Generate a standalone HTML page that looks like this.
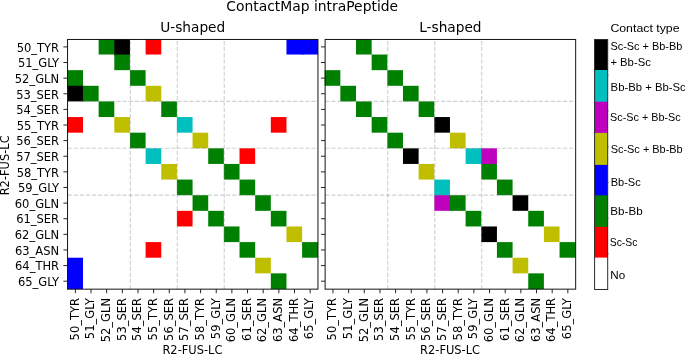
<!DOCTYPE html>
<html lang="en"><head><meta charset="utf-8"><title>ContactMap intraPeptide</title>
<style>html,body{margin:0;padding:0;background:#fff;overflow:hidden}svg{display:block}text{fill:#000}.t{font-family:'DejaVu Sans', 'Liberation Sans', sans-serif;font-size:11.50px}.l{font-family:'DejaVu Sans', 'Liberation Sans', sans-serif;font-size:11.45px}.h{font-family:'DejaVu Sans', 'Liberation Sans', sans-serif;font-size:13.89px}.lg{font-family:'Liberation Sans', 'DejaVu Sans', sans-serif;font-size:11.5px}</style>
</head><body>
<svg width="685" height="355" viewBox="0 0 685 355">
<rect x="0" y="0" width="685" height="355" fill="#ffffff"/>
<text class="h" text-anchor="middle" x="312.2" y="10.7">ContactMap intraPeptide</text>
<text class="h" style="font-size:13.7px" text-anchor="middle" x="192.76" y="32">U-shaped</text>
<text class="h" style="font-size:13.7px" text-anchor="middle" x="450.40" y="32">L-shaped</text>
<g>
<rect x="98.65" y="39.07" width="16.95" height="15.46" fill="#008000"/>
<rect x="114.30" y="39.07" width="15.65" height="16.76" fill="#000000"/>
<rect x="145.61" y="39.07" width="15.65" height="15.46" fill="#ff0000"/>
<rect x="286.47" y="39.07" width="16.95" height="15.46" fill="#0000ff"/>
<rect x="302.12" y="39.07" width="15.85" height="15.46" fill="#0000ff"/>
<rect x="114.30" y="54.53" width="15.65" height="15.63" fill="#008000"/>
<rect x="67.35" y="70.16" width="15.65" height="16.93" fill="#008000"/>
<rect x="129.96" y="70.16" width="15.65" height="15.63" fill="#008000"/>
<rect x="67.35" y="85.79" width="16.95" height="15.63" fill="#000000"/>
<rect x="83.00" y="85.79" width="15.65" height="15.63" fill="#008000"/>
<rect x="145.61" y="85.79" width="15.65" height="15.63" fill="#bfbf00"/>
<rect x="98.65" y="101.42" width="15.65" height="15.63" fill="#008000"/>
<rect x="161.26" y="101.42" width="15.65" height="15.63" fill="#008000"/>
<rect x="67.35" y="117.05" width="15.65" height="15.63" fill="#ff0000"/>
<rect x="114.30" y="117.05" width="15.65" height="15.63" fill="#bfbf00"/>
<rect x="176.91" y="117.05" width="15.65" height="15.63" fill="#00bfbf"/>
<rect x="270.82" y="117.05" width="15.65" height="15.63" fill="#ff0000"/>
<rect x="129.96" y="132.68" width="15.65" height="15.63" fill="#008000"/>
<rect x="192.56" y="132.68" width="15.65" height="15.63" fill="#bfbf00"/>
<rect x="145.61" y="148.31" width="15.65" height="15.63" fill="#00bfbf"/>
<rect x="208.21" y="148.31" width="15.65" height="15.63" fill="#008000"/>
<rect x="239.51" y="148.31" width="15.65" height="15.63" fill="#ff0000"/>
<rect x="161.26" y="163.94" width="15.65" height="15.63" fill="#bfbf00"/>
<rect x="223.86" y="163.94" width="15.65" height="15.63" fill="#008000"/>
<rect x="176.91" y="179.57" width="15.65" height="15.63" fill="#008000"/>
<rect x="239.51" y="179.57" width="15.65" height="15.63" fill="#008000"/>
<rect x="192.56" y="195.20" width="15.65" height="15.63" fill="#008000"/>
<rect x="255.17" y="195.20" width="15.65" height="15.63" fill="#008000"/>
<rect x="176.91" y="210.83" width="15.65" height="15.63" fill="#ff0000"/>
<rect x="208.21" y="210.83" width="15.65" height="15.63" fill="#008000"/>
<rect x="270.82" y="210.83" width="15.65" height="15.63" fill="#008000"/>
<rect x="223.86" y="226.46" width="15.65" height="15.63" fill="#008000"/>
<rect x="286.47" y="226.46" width="15.65" height="15.63" fill="#bfbf00"/>
<rect x="145.61" y="242.09" width="15.65" height="15.63" fill="#ff0000"/>
<rect x="239.51" y="242.09" width="15.65" height="15.63" fill="#008000"/>
<rect x="302.12" y="242.09" width="15.85" height="15.63" fill="#008000"/>
<rect x="67.35" y="257.72" width="15.65" height="16.93" fill="#0000ff"/>
<rect x="255.17" y="257.72" width="15.65" height="15.63" fill="#bfbf00"/>
<rect x="67.35" y="273.35" width="15.65" height="15.80" fill="#0000ff"/>
<rect x="270.82" y="273.35" width="15.65" height="15.80" fill="#008000"/>
</g>
<g stroke="#808080" stroke-opacity="0.36" stroke-width="1.15" stroke-dasharray="4.255 1.842" fill="none">
<line x1="130.35" y1="289.15" x2="130.35" y2="39.47"/>
<line x1="177.31" y1="289.15" x2="177.31" y2="39.47"/>
<line x1="224.26" y1="289.15" x2="224.26" y2="39.47"/>
<line x1="67.55" y1="101.44" x2="317.97" y2="101.44"/>
<line x1="67.55" y1="148.25" x2="317.97" y2="148.25"/>
<line x1="67.55" y1="195.07" x2="317.97" y2="195.07"/>
</g>
<g stroke="#262626" stroke-width="1.0">
<line x1="75.38" y1="289.15" x2="75.38" y2="293.25"/>
<line x1="63.45" y1="46.90" x2="67.55" y2="46.90"/>
<line x1="91.03" y1="289.15" x2="91.03" y2="293.25"/>
<line x1="63.45" y1="62.52" x2="67.55" y2="62.52"/>
<line x1="106.68" y1="289.15" x2="106.68" y2="293.25"/>
<line x1="63.45" y1="78.14" x2="67.55" y2="78.14"/>
<line x1="122.33" y1="289.15" x2="122.33" y2="293.25"/>
<line x1="63.45" y1="93.76" x2="67.55" y2="93.76"/>
<line x1="137.98" y1="289.15" x2="137.98" y2="293.25"/>
<line x1="63.45" y1="109.38" x2="67.55" y2="109.38"/>
<line x1="153.63" y1="289.15" x2="153.63" y2="293.25"/>
<line x1="63.45" y1="125.00" x2="67.55" y2="125.00"/>
<line x1="169.28" y1="289.15" x2="169.28" y2="293.25"/>
<line x1="63.45" y1="140.62" x2="67.55" y2="140.62"/>
<line x1="184.93" y1="289.15" x2="184.93" y2="293.25"/>
<line x1="63.45" y1="156.24" x2="67.55" y2="156.24"/>
<line x1="200.59" y1="289.15" x2="200.59" y2="293.25"/>
<line x1="63.45" y1="171.86" x2="67.55" y2="171.86"/>
<line x1="216.24" y1="289.15" x2="216.24" y2="293.25"/>
<line x1="63.45" y1="187.48" x2="67.55" y2="187.48"/>
<line x1="231.89" y1="289.15" x2="231.89" y2="293.25"/>
<line x1="63.45" y1="203.10" x2="67.55" y2="203.10"/>
<line x1="247.54" y1="289.15" x2="247.54" y2="293.25"/>
<line x1="63.45" y1="218.72" x2="67.55" y2="218.72"/>
<line x1="263.19" y1="289.15" x2="263.19" y2="293.25"/>
<line x1="63.45" y1="234.34" x2="67.55" y2="234.34"/>
<line x1="278.84" y1="289.15" x2="278.84" y2="293.25"/>
<line x1="63.45" y1="249.96" x2="67.55" y2="249.96"/>
<line x1="294.49" y1="289.15" x2="294.49" y2="293.25"/>
<line x1="63.45" y1="265.58" x2="67.55" y2="265.58"/>
<line x1="310.14" y1="289.15" x2="310.14" y2="293.25"/>
<line x1="63.45" y1="281.20" x2="67.55" y2="281.20"/>
</g>
<rect x="67.55" y="39.47" width="250.42" height="249.68" fill="none" stroke="#141414" stroke-width="1.0"/>
<text class="t" transform="translate(78.68 297.95) rotate(-90)" text-anchor="end" x="0" y="0">50_TYR</text>
<text class="t" text-anchor="end" x="59.10" y="51.72">50_TYR</text>
<text class="t" transform="translate(94.33 297.95) rotate(-90)" text-anchor="end" x="0" y="0">51_GLY</text>
<text class="t" text-anchor="end" x="59.10" y="67.33">51_GLY</text>
<text class="t" transform="translate(109.98 297.95) rotate(-90)" text-anchor="end" x="0" y="0">52_GLN</text>
<text class="t" text-anchor="end" x="59.10" y="82.93">52_GLN</text>
<text class="t" transform="translate(125.63 297.95) rotate(-90)" text-anchor="end" x="0" y="0">53_SER</text>
<text class="t" text-anchor="end" x="59.10" y="98.54">53_SER</text>
<text class="t" transform="translate(141.28 297.95) rotate(-90)" text-anchor="end" x="0" y="0">54_SER</text>
<text class="t" text-anchor="end" x="59.10" y="114.14">54_SER</text>
<text class="t" transform="translate(156.93 297.95) rotate(-90)" text-anchor="end" x="0" y="0">55_TYR</text>
<text class="t" text-anchor="end" x="59.10" y="129.75">55_TYR</text>
<text class="t" transform="translate(172.58 297.95) rotate(-90)" text-anchor="end" x="0" y="0">56_SER</text>
<text class="t" text-anchor="end" x="59.10" y="145.35">56_SER</text>
<text class="t" transform="translate(188.23 297.95) rotate(-90)" text-anchor="end" x="0" y="0">57_SER</text>
<text class="t" text-anchor="end" x="59.10" y="160.96">57_SER</text>
<text class="t" transform="translate(203.89 297.95) rotate(-90)" text-anchor="end" x="0" y="0">58_TYR</text>
<text class="t" text-anchor="end" x="59.10" y="176.56">58_TYR</text>
<text class="t" transform="translate(219.54 297.95) rotate(-90)" text-anchor="end" x="0" y="0">59_GLY</text>
<text class="t" text-anchor="end" x="59.10" y="192.17">59_GLY</text>
<text class="t" transform="translate(235.19 297.95) rotate(-90)" text-anchor="end" x="0" y="0">60_GLN</text>
<text class="t" text-anchor="end" x="59.10" y="207.77">60_GLN</text>
<text class="t" transform="translate(250.84 297.95) rotate(-90)" text-anchor="end" x="0" y="0">61_SER</text>
<text class="t" text-anchor="end" x="59.10" y="223.38">61_SER</text>
<text class="t" transform="translate(266.49 297.95) rotate(-90)" text-anchor="end" x="0" y="0">62_GLN</text>
<text class="t" text-anchor="end" x="59.10" y="238.98">62_GLN</text>
<text class="t" transform="translate(282.14 297.95) rotate(-90)" text-anchor="end" x="0" y="0">63_ASN</text>
<text class="t" text-anchor="end" x="59.10" y="254.59">63_ASN</text>
<text class="t" transform="translate(297.79 297.95) rotate(-90)" text-anchor="end" x="0" y="0">64_THR</text>
<text class="t" text-anchor="end" x="59.10" y="270.19">64_THR</text>
<text class="t" transform="translate(313.44 297.95) rotate(-90)" text-anchor="end" x="0" y="0">65_GLY</text>
<text class="t" text-anchor="end" x="59.10" y="285.80">65_GLY</text>
<text class="l" text-anchor="middle" x="192.46" y="354.25">R2-FUS-LC</text>
<g>
<rect x="356.00" y="39.07" width="15.66" height="15.46" fill="#008000"/>
<rect x="371.66" y="54.53" width="15.66" height="15.63" fill="#008000"/>
<rect x="324.68" y="70.16" width="15.66" height="15.63" fill="#008000"/>
<rect x="387.31" y="70.16" width="15.66" height="15.63" fill="#008000"/>
<rect x="340.34" y="85.79" width="15.66" height="15.63" fill="#008000"/>
<rect x="402.97" y="85.79" width="15.66" height="15.63" fill="#008000"/>
<rect x="356.00" y="101.42" width="15.66" height="15.63" fill="#008000"/>
<rect x="418.63" y="101.42" width="15.66" height="15.63" fill="#008000"/>
<rect x="371.66" y="117.05" width="15.66" height="15.63" fill="#008000"/>
<rect x="434.29" y="117.05" width="15.66" height="15.63" fill="#000000"/>
<rect x="387.31" y="132.68" width="15.66" height="15.63" fill="#008000"/>
<rect x="449.95" y="132.68" width="15.66" height="15.63" fill="#bfbf00"/>
<rect x="402.97" y="148.31" width="15.66" height="15.63" fill="#000000"/>
<rect x="465.61" y="148.31" width="16.96" height="15.63" fill="#00bfbf"/>
<rect x="481.27" y="148.31" width="15.66" height="16.93" fill="#bf00bf"/>
<rect x="418.63" y="163.94" width="15.66" height="15.63" fill="#bfbf00"/>
<rect x="481.27" y="163.94" width="15.66" height="15.63" fill="#008000"/>
<rect x="434.29" y="179.57" width="15.66" height="16.93" fill="#00bfbf"/>
<rect x="496.93" y="179.57" width="15.66" height="15.63" fill="#008000"/>
<rect x="434.29" y="195.20" width="16.96" height="15.63" fill="#bf00bf"/>
<rect x="449.95" y="195.20" width="15.66" height="15.63" fill="#008000"/>
<rect x="512.58" y="195.20" width="15.66" height="15.63" fill="#000000"/>
<rect x="465.61" y="210.83" width="15.66" height="15.63" fill="#008000"/>
<rect x="528.24" y="210.83" width="15.66" height="15.63" fill="#008000"/>
<rect x="481.27" y="226.46" width="15.66" height="15.63" fill="#000000"/>
<rect x="543.90" y="226.46" width="15.66" height="15.63" fill="#bfbf00"/>
<rect x="496.93" y="242.09" width="15.66" height="15.63" fill="#008000"/>
<rect x="559.56" y="242.09" width="16.11" height="15.63" fill="#008000"/>
<rect x="512.58" y="257.72" width="15.66" height="15.63" fill="#bfbf00"/>
<rect x="528.24" y="273.35" width="15.66" height="15.80" fill="#008000"/>
</g>
<g stroke="#808080" stroke-opacity="0.36" stroke-width="1.15" stroke-dasharray="4.255 1.842" fill="none">
<line x1="387.76" y1="289.15" x2="387.76" y2="39.47"/>
<line x1="434.74" y1="289.15" x2="434.74" y2="39.47"/>
<line x1="481.72" y1="289.15" x2="481.72" y2="39.47"/>
<line x1="325.13" y1="101.44" x2="575.67" y2="101.44"/>
<line x1="325.13" y1="148.25" x2="575.67" y2="148.25"/>
<line x1="325.13" y1="195.07" x2="575.67" y2="195.07"/>
</g>
<g stroke="#262626" stroke-width="1.0">
<line x1="332.96" y1="289.15" x2="332.96" y2="293.25"/>
<line x1="321.03" y1="46.90" x2="325.13" y2="46.90"/>
<line x1="348.62" y1="289.15" x2="348.62" y2="293.25"/>
<line x1="321.03" y1="62.52" x2="325.13" y2="62.52"/>
<line x1="364.28" y1="289.15" x2="364.28" y2="293.25"/>
<line x1="321.03" y1="78.14" x2="325.13" y2="78.14"/>
<line x1="379.94" y1="289.15" x2="379.94" y2="293.25"/>
<line x1="321.03" y1="93.76" x2="325.13" y2="93.76"/>
<line x1="395.59" y1="289.15" x2="395.59" y2="293.25"/>
<line x1="321.03" y1="109.38" x2="325.13" y2="109.38"/>
<line x1="411.25" y1="289.15" x2="411.25" y2="293.25"/>
<line x1="321.03" y1="125.00" x2="325.13" y2="125.00"/>
<line x1="426.91" y1="289.15" x2="426.91" y2="293.25"/>
<line x1="321.03" y1="140.62" x2="325.13" y2="140.62"/>
<line x1="442.57" y1="289.15" x2="442.57" y2="293.25"/>
<line x1="321.03" y1="156.24" x2="325.13" y2="156.24"/>
<line x1="458.23" y1="289.15" x2="458.23" y2="293.25"/>
<line x1="321.03" y1="171.86" x2="325.13" y2="171.86"/>
<line x1="473.89" y1="289.15" x2="473.89" y2="293.25"/>
<line x1="321.03" y1="187.48" x2="325.13" y2="187.48"/>
<line x1="489.55" y1="289.15" x2="489.55" y2="293.25"/>
<line x1="321.03" y1="203.10" x2="325.13" y2="203.10"/>
<line x1="505.21" y1="289.15" x2="505.21" y2="293.25"/>
<line x1="321.03" y1="218.72" x2="325.13" y2="218.72"/>
<line x1="520.86" y1="289.15" x2="520.86" y2="293.25"/>
<line x1="321.03" y1="234.34" x2="325.13" y2="234.34"/>
<line x1="536.52" y1="289.15" x2="536.52" y2="293.25"/>
<line x1="321.03" y1="249.96" x2="325.13" y2="249.96"/>
<line x1="552.18" y1="289.15" x2="552.18" y2="293.25"/>
<line x1="321.03" y1="265.58" x2="325.13" y2="265.58"/>
<line x1="567.84" y1="289.15" x2="567.84" y2="293.25"/>
<line x1="321.03" y1="281.20" x2="325.13" y2="281.20"/>
</g>
<rect x="325.13" y="39.47" width="250.54" height="249.68" fill="none" stroke="#141414" stroke-width="1.0"/>
<text class="t" transform="translate(336.26 297.95) rotate(-90)" text-anchor="end" x="0" y="0">50_TYR</text>
<text class="t" transform="translate(351.92 297.95) rotate(-90)" text-anchor="end" x="0" y="0">51_GLY</text>
<text class="t" transform="translate(367.58 297.95) rotate(-90)" text-anchor="end" x="0" y="0">52_GLN</text>
<text class="t" transform="translate(383.24 297.95) rotate(-90)" text-anchor="end" x="0" y="0">53_SER</text>
<text class="t" transform="translate(398.89 297.95) rotate(-90)" text-anchor="end" x="0" y="0">54_SER</text>
<text class="t" transform="translate(414.55 297.95) rotate(-90)" text-anchor="end" x="0" y="0">55_TYR</text>
<text class="t" transform="translate(430.21 297.95) rotate(-90)" text-anchor="end" x="0" y="0">56_SER</text>
<text class="t" transform="translate(445.87 297.95) rotate(-90)" text-anchor="end" x="0" y="0">57_SER</text>
<text class="t" transform="translate(461.53 297.95) rotate(-90)" text-anchor="end" x="0" y="0">58_TYR</text>
<text class="t" transform="translate(477.19 297.95) rotate(-90)" text-anchor="end" x="0" y="0">59_GLY</text>
<text class="t" transform="translate(492.85 297.95) rotate(-90)" text-anchor="end" x="0" y="0">60_GLN</text>
<text class="t" transform="translate(508.51 297.95) rotate(-90)" text-anchor="end" x="0" y="0">61_SER</text>
<text class="t" transform="translate(524.16 297.95) rotate(-90)" text-anchor="end" x="0" y="0">62_GLN</text>
<text class="t" transform="translate(539.82 297.95) rotate(-90)" text-anchor="end" x="0" y="0">63_ASN</text>
<text class="t" transform="translate(555.48 297.95) rotate(-90)" text-anchor="end" x="0" y="0">64_THR</text>
<text class="t" transform="translate(571.14 297.95) rotate(-90)" text-anchor="end" x="0" y="0">65_GLY</text>
<text class="l" text-anchor="middle" x="450.10" y="354.25">R2-FUS-LC</text>
<text class="l" transform="translate(9.1 165.31) rotate(-90)" text-anchor="middle" x="0" y="0">R2-FUS-LC</text>
<g>
<rect x="594.60" y="39.55" width="13.10" height="31.75" fill="#000000"/>
<rect x="594.60" y="70.00" width="13.10" height="33.00" fill="#00bfbf"/>
<rect x="594.60" y="101.70" width="13.10" height="32.50" fill="#bf00bf"/>
<rect x="594.60" y="132.90" width="13.10" height="33.30" fill="#bfbf00"/>
<rect x="594.60" y="164.90" width="13.10" height="31.70" fill="#0000ff"/>
<rect x="594.60" y="195.30" width="13.10" height="32.90" fill="#008000"/>
<rect x="594.60" y="226.90" width="13.10" height="30.70" fill="#ff0000"/>
</g>
<rect x="594.60" y="39.55" width="13.10" height="249.95" fill="none" stroke="#222222" stroke-width="0.95"/>
<g stroke="#555555" stroke-width="0.9">
<line x1="607.70" y1="75.26" x2="608.60" y2="75.26"/>
<line x1="607.70" y1="110.96" x2="608.60" y2="110.96"/>
<line x1="607.70" y1="146.67" x2="608.60" y2="146.67"/>
<line x1="607.70" y1="182.38" x2="608.60" y2="182.38"/>
<line x1="607.70" y1="218.09" x2="608.60" y2="218.09"/>
<line x1="607.70" y1="253.79" x2="608.60" y2="253.79"/>
</g>
<text class="lg" x="610.40" y="32.20" textLength="69.10" lengthAdjust="spacingAndGlyphs">Contact type</text>
<text class="lg" x="610.40" y="49.90" textLength="72.00" lengthAdjust="spacingAndGlyphs">Sc-Sc + Bb-Bb</text>
<text class="lg" x="610.40" y="66.00" textLength="40.40" lengthAdjust="spacingAndGlyphs">+ Bb-Sc</text>
<text class="lg" x="610.60" y="91.30" textLength="75.10" lengthAdjust="spacingAndGlyphs">Bb-Bb + Bb-Sc</text>
<text class="lg" x="610.10" y="121.20" textLength="70.50" lengthAdjust="spacingAndGlyphs">Sc-Sc + Bb-Sc</text>
<text class="lg" x="610.70" y="152.70" textLength="72.00" lengthAdjust="spacingAndGlyphs">Sc-Sc + Bb-Bb</text>
<text class="lg" x="610.70" y="186.30" textLength="30.00" lengthAdjust="spacingAndGlyphs">Bb-Sc</text>
<text class="lg" x="610.30" y="215.30" textLength="32.30" lengthAdjust="spacingAndGlyphs">Bb-Bb</text>
<text class="lg" x="609.70" y="245.80" textLength="27.80" lengthAdjust="spacingAndGlyphs">Sc-Sc</text>
<text class="lg" x="610.30" y="278.70" textLength="14.90" lengthAdjust="spacingAndGlyphs">No</text>
</svg>
</body></html>
